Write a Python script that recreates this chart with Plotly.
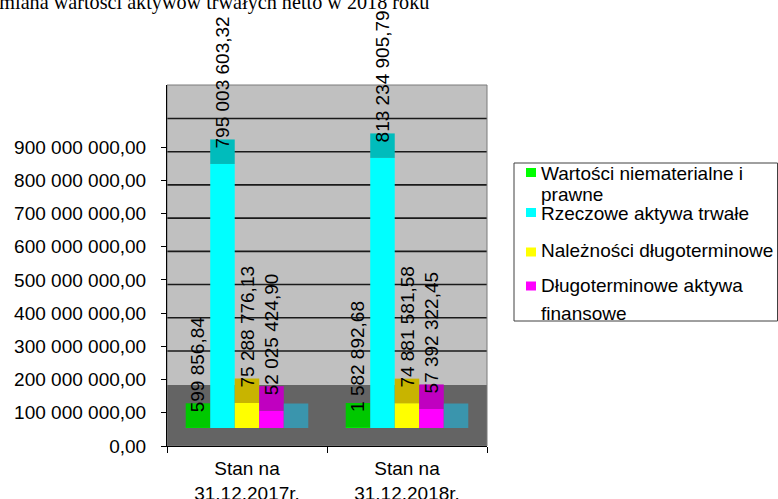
import plotly.graph_objects as go

# ---------------- data ----------------
categories = ["Stan na<br>31.12.2017r.", "Stan na<br>31.12.2018r."]
series_names = [
    "Wartości niematerialne i<br>prawne",
    "Rzeczowe aktywa trwałe",
    "Należności długoterminowe",
    "Długoterminowe aktywa<br>finansowe",
]
wartosci_niematerialne = [599856.84, 1582892.68]
rzeczowe_aktywa = [795003603.32, 813234905.79]
naleznosci_dlugoterminowe = [75288776.13, 74881581.58]
dlugoterminowe_aktywa_fin = [52025424.90, 57392322.45]
pusta_seria = [0.0, 0.0]          # fifth (unnamed) series drawn by the original chart
y_tick_values = [0, 100e6, 200e6, 300e6, 400e6, 500e6, 600e6, 700e6, 800e6, 900e6]
title_text = "Zmiana wartości aktywów trwałych netto w 2018 roku"

# ---------------- styling ----------------
FONT = "Liberation Sans, Arial, sans-serif"
front_colors = ["#00FF00", "#00FFFF", "#FFFF00", "#FF00FF", "#3A95AD"]
top_colors = ["#00C800", "#00BCBC", "#C8B400", "#C000C0", "#3A95AD"]

L, T, PLOT_W, PLOT_H = 167, 85, 320, 361
Y_MAX = 1087e6
U = Y_MAX / PLOT_H            # data units per pixel
BASE = 18 * U                 # 3D floor offset of bar fronts
DEPTH = 24.5 * U              # visible top face of each bar
LABEL_EXTRA = 12.5 * U        # where value labels start


def px_x(p):
    return (p - L) / PLOT_W


def px_y(p):
    return (T + PLOT_H - p) / PLOT_H


def fmt(v):
    return f"{v:,.2f}".replace(",", " ").replace(".", ",")


all_series = [wartosci_niematerialne, rzeczowe_aktywa, naleznosci_dlugoterminowe,
              dlugoterminowe_aktywa_fin, pusta_seria]

fig = go.Figure()
for i, vals in enumerate(all_series):
    named = i < len(series_names)
    nm = series_names[i].replace("<br>", " ") if named else ""
    # front face
    fig.add_trace(go.Bar(
        x=categories, y=vals, base=[BASE] * len(vals), name=nm,
        offsetgroup=str(i),
        marker=dict(color=front_colors[i], line=dict(width=0)),
        hoverinfo="skip",
    ))
    # top face
    fig.add_trace(go.Bar(
        x=categories, y=[DEPTH] * len(vals), base=[BASE + v for v in vals],
        offsetgroup=str(i),
        marker=dict(color=top_colors[i], line=dict(width=0)),
        hoverinfo="skip",
    ))
    if named:
        # value labels
        fig.add_trace(go.Bar(
            x=categories, y=[v + LABEL_EXTRA for v in vals], base=[BASE] * len(vals),
            offsetgroup=str(i),
            marker=dict(color="rgba(0,0,0,0)", line=dict(width=0)),
            text=[fmt(v) for v in vals], textposition="outside", textangle=-90,
            constraintext="none", cliponaxis=False,
            textfont=dict(family=FONT, size=19, color="black"),
            hoverinfo="skip",
        ))

shapes = []
# gridlines on the back wall (offset by 3D perspective)
for k in range(3, 11):
    yv = k * 100e6 - 4.6 * U
    shapes.append(dict(type="line", xref="x domain", yref="y", x0=0, x1=1, y0=yv, y1=yv,
                       line=dict(color="#1a1a1a", width=1.6), layer="below"))
# floor
shapes.append(dict(type="rect", xref="x domain", yref="y", x0=0, x1=1, y0=0, y1=200e6 - 5.3 * U,
                   fillcolor="#646464", line=dict(width=0), layer="below"))
# wall border
shapes.append(dict(type="rect", xref="x domain", yref="y domain", x0=0, x1=1, y0=0, y1=1,
                   line=dict(color="#7a7a7a", width=1), layer="below"))

annotations = [dict(
    text=title_text, xref="paper", yref="paper",
    x=px_x(-15.4), y=px_y(2.3), xanchor="left", yanchor="middle", showarrow=False,
    font=dict(family="Liberation Serif, Times New Roman, serif", size=20.2, color="black"),
)]

# legend box (drawn like the original, with its own spacing)
shapes.append(dict(type="rect", xref="paper", yref="paper",
                   x0=px_x(514), x1=px_x(777.5), y0=px_y(163), y1=px_y(321),
                   fillcolor="white", line=dict(color="#404040", width=1), layer="above"))
marker_y = [172.5, 212.5, 252, 286]
line_y = [[173.7, 194.0], [213.2], [250.2], [285.0, 313.4]]
for i, name in enumerate(series_names):
    shapes.append(dict(type="rect", xref="paper", yref="paper",
                       x0=px_x(526), x1=px_x(536), y0=px_y(marker_y[i] - 4.5), y1=px_y(marker_y[i] + 4.5),
                       fillcolor=front_colors[i], line=dict(width=0), layer="above"))
    for part, yy in zip(name.split("<br>"), line_y[i]):
        annotations.append(dict(
            text=part, xref="paper", yref="paper", x=px_x(539), y=px_y(yy),
            xanchor="left", yanchor="middle", showarrow=False,
            font=dict(family=FONT, size=19, color="black"),
        ))

fig.update_layout(
    width=778, height=499,
    margin=dict(l=L, r=778 - L - PLOT_W, t=T, b=499 - T - PLOT_H, autoexpand=False),
    paper_bgcolor="white", plot_bgcolor="#C0C0C0",
    barmode="group", bargap=0.234, bargroupgap=0,
    font=dict(family=FONT, size=19, color="black"),
    shapes=shapes, annotations=annotations,
    showlegend=False,
    xaxis=dict(
        showline=True, linecolor="black", linewidth=1,
        ticks="outside", ticklen=6, tickcolor="black", tickson="boundaries",
        showgrid=False, zeroline=False, ticklabelstandoff=5,
        tickfont=dict(family=FONT, size=19, color="black"),
    ),
    yaxis=dict(
        range=[0, Y_MAX], showline=True, linecolor="black", linewidth=1,
        ticks="outside", ticklen=5, tickcolor="black",
        tickvals=y_tick_values, ticktext=[fmt(v) for v in y_tick_values],
        showgrid=False, zeroline=False, ticklabelstandoff=11,
        tickfont=dict(family=FONT, size=19, color="black"),
    ),
)

fig.write_html("out.html", config={"displayModeBar": False},
               post_script="document.body.style.margin='0px';")
